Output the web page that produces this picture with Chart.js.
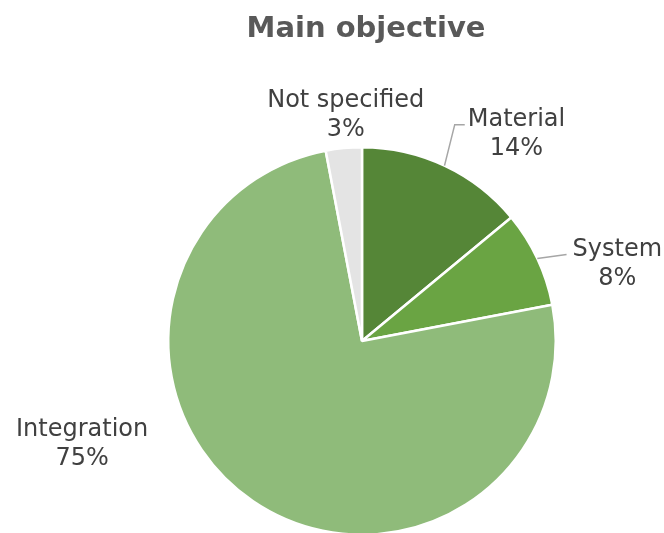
<!DOCTYPE html>
<html>
<head>
<meta charset="utf-8">
<title>Main objective</title>
<script src="https://cdn.jsdelivr.net/npm/chart.js@4.4.1/dist/chart.umd.min.js"></script>
<style>
  html, body { margin: 0; padding: 0; background: #ffffff; overflow: hidden; }
  #wrap { width: 664px; height: 533px; position: relative; overflow: hidden; }
  #chart { display: block; }
</style>
</head>
<body>
<div id="wrap"><canvas id="chart" width="664" height="541"></canvas></div>
<script>
// Share of projects by main objective (percent)
const categories = ['Material', 'System', 'Integration', 'Not specified'];
const shares = [14, 8, 75, 3];
const sliceColors = ['#558637', '#6aa443', '#8fbb7a', '#e4e4e4'];

const titleText = 'Main objective';

// Where each category label sits relative to the rim point at the slice's mid angle,
// and whether a leader line joins it to the slice.
const labelStyle = [
  { dx: 72, dy: -40, leader: { elbow: 13, gap: 3 } },
  { dx: 80, dy: -3, leader: { elbow: 0, gap: 6 } },
  { dx: -171, dy: -65, leader: null },
  { dx: 2, dy: -41, leader: null }
];

const LABEL_FONT = '24px "DejaVu Sans", Verdana, sans-serif';
const TITLE_FONT = 'bold 29px "DejaVu Sans", Verdana, sans-serif';
const LINE_GAP = 29;

const pieLabels = {
  id: 'pieLabels',
  afterDatasetsDraw(chart) {
    const ctx = chart.ctx;
    const meta = chart.getDatasetMeta(0);
    const values = chart.data.datasets[0].data;
    const total = values.reduce((a, b) => a + b, 0);

    ctx.save();
    // title
    ctx.font = TITLE_FONT;
    ctx.fillStyle = '#595959';
    ctx.textAlign = 'center';
    ctx.textBaseline = 'alphabetic';
    ctx.fillText(titleText, 366, 37);

    ctx.font = LABEL_FONT;
    meta.data.forEach((arc, i) => {
      const p = arc.getProps(['x', 'y', 'startAngle', 'endAngle', 'outerRadius'], true);
      const mid = (p.startAngle + p.endAngle) / 2;
      const ex = p.x + Math.cos(mid) * p.outerRadius;
      const ey = p.y + Math.sin(mid) * p.outerRadius;
      const st = labelStyle[i];
      const lx = ex + st.dx;
      const ly = ey + st.dy;
      const line1 = chart.data.labels[i];
      const line2 = Math.round(values[i] / total * 100) + '%';
      const w = ctx.measureText(line1).width;

      if (st.leader) {
        const left = lx - w / 2;
        ctx.strokeStyle = '#a6a6a6';
        ctx.lineWidth = 1.5;
        ctx.beginPath();
        ctx.moveTo(ex, ey);
        if (st.leader.elbow > 0) {
          ctx.lineTo(left - st.leader.elbow, ly - 1);
        }
        ctx.lineTo(left - st.leader.gap, ly - 1);
        ctx.stroke();
      }

      ctx.fillStyle = '#404040';
      ctx.textAlign = 'center';
      ctx.fillText(line1, lx, ly);
      ctx.fillText(line2, lx, ly + LINE_GAP);
    });
    ctx.restore();
  }
};

new Chart(document.getElementById('chart'), {
  type: 'pie',
  data: {
    labels: categories,
    datasets: [{
      data: shares,
      backgroundColor: sliceColors,
      borderColor: '#ffffff',
      borderWidth: 2.5
    }]
  },
  options: {
    responsive: false,
    animation: false,
    events: [],
    layout: { padding: { top: 146, bottom: 5, left: 167, right: 107 } },
    plugins: {
      legend: { display: false },
      title: { display: false },
      tooltip: { enabled: false }
    }
  },
  plugins: [pieLabels]
});
</script>
</body>
</html>
